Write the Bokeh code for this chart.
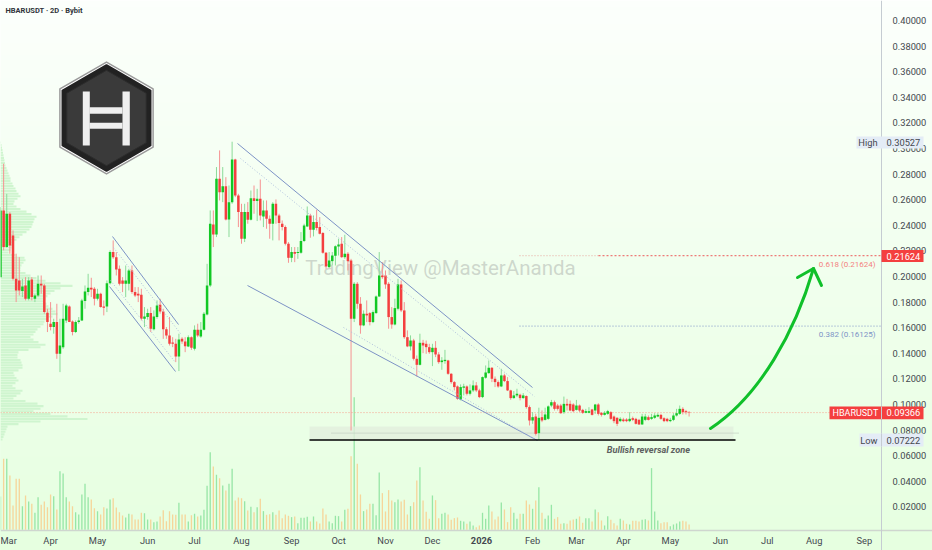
from bokeh.plotting import figure
from bokeh.models import Range1d, LinearAxis, FixedTicker, PrintfTickFormatter
from bokeh.core.properties import value
from bokeh.embed import file_html
from bokeh.resources import INLINE
import numpy as np

# OHLC, in units of 0.0001 USDT, one candle every two days
open_e4 = [1995,2516,2230,2490,2321,1982,1969,1887,1930,1826,
1977,1826,1852,1943,1930,1717,1631,1605,1644,1396,
1448,1657,1766,1649,1566,1644,1657,1808,1878,1912,
1904,1826,1865,1766,1766,1948,2191,2151,2060,1969,
1943,1943,2047,1878,1865,1857,1670,1683,1714,1587,
1683,1779,1727,1587,1540,1485,1474,1375,1513,1492,
1454,1526,1435,1584,1532,1584,1703,1930,2407,2329,
2763,2659,2706,2446,2581,2914,2633,2503,2295,2503,
2443,2612,2589,2607,2469,2516,2451,2412,2568,2477,
2412,2386,2256,2146,2191,2183,2185,2277,2391,2477,
2365,2425,2386,2339,2185,2073,2120,2162,2235,2256,
2151,2178,2125,1670,1943,1787,1618,1709,1714,1644,
1714,1844,2008,2008,1943,1683,1625,1748,1938,1735,
1526,1454,1500,1357,1310,1482,1474,1448,1409,1443,
1391,1331,1339,1344,1240,1175,1141,1040,1131,1141,
1084,1110,1149,1110,1058,1209,1245,1287,1201,1175,
1141,1227,1183,1110,1050,1071,1076,1050,1066,980,
875,906,776,901,880,888,992,1018,992,992,
940,1005,1005,1000,958,992,958,935,935,961,
953,1000,935,919,927,940,906,896,870,883,
883,870,893,888,880,844,880,901,888,896,
906,919,893,888,870,880,914,927,966,948,940]
close_e4 = [2516,2230,2490,2243,1982,1891,1891,1922,1826,1969,
1839,1852,1943,1930,1722,1644,1605,1644,1396,1461,
1670,1774,1644,1566,1644,1657,1813,1883,1912,1899,
1826,1865,1761,1756,1948,2191,2151,2055,1943,1943,
1969,2047,1878,1852,1852,1670,1688,1714,1592,1688,
1774,1727,1587,1540,1474,1474,1375,1508,1492,1456,
1526,1443,1584,1540,1584,1709,1930,2412,2329,2763,
2659,2706,2446,2581,2914,2633,2503,2295,2503,2443,
2612,2589,2607,2477,2516,2451,2412,2568,2477,2417,
2386,2256,2146,2191,2178,2191,2277,2399,2477,2365,
2425,2378,2334,2185,2079,2125,2164,2237,2250,2151,
2178,2120,1670,1943,1787,1618,1709,1696,1644,1722,
1844,2008,1995,1938,1683,1625,1753,1938,1735,1526,
1454,1500,1357,1310,1482,1461,1448,1409,1443,1391,
1331,1344,1349,1240,1175,1136,1045,1136,1141,1084,
1110,1149,1110,1058,1214,1250,1287,1201,1175,1141,
1227,1183,1110,1050,1071,1084,1050,1071,980,875,
901,771,896,875,922,985,1018,966,966,932,
1005,992,953,948,992,953,935,948,948,919,
1000,927,919,935,948,888,870,849,888,870,
870,888,880,849,844,906,906,880,901,914,
919,888,870,870,880,914,932,966,940,940,937]
high_e4 = [2542,2881,2646,2503,2360,2178,2151,1982,1995,1995,
1995,1865,2008,2008,1943,1748,1800,1670,1787,1670,
1787,1787,1774,1657,1657,1683,1826,1930,2021,1990,
1917,1904,1873,1813,1969,2204,2282,2191,2086,1995,
2086,2060,2086,1917,1917,1904,1761,1748,1761,1735,
1813,1826,1748,1605,1683,1526,1513,1553,1526,1526,
1540,1532,1618,1631,1644,1722,2099,2516,2516,2855,
2985,2855,2776,2711,3053,2920,2646,2568,2568,2581,
2672,2711,2685,2758,2594,2594,2477,2581,2602,2490,
2438,2399,2269,2230,2230,2230,2347,2412,2547,2490,
2477,2521,2464,2347,2191,2191,2191,2243,2295,2308,
2326,2191,2138,1956,1956,1839,1735,1813,1722,1735,
1852,2191,2112,2047,1956,1761,1826,1982,1969,1800,
1579,1540,1513,1383,1553,1505,1500,1474,1474,1495,
1409,1370,1427,1349,1245,1183,1149,1157,1162,1149,
1157,1188,1175,1123,1219,1305,1344,1292,1219,1188,
1279,1240,1214,1115,1105,1123,1084,1089,1071,993,
941,928,975,954,975,993,1036,1031,1005,1005,
1062,1044,1031,1010,1036,1000,966,966,979,966,
1005,1010,940,948,958,948,914,901,901,896,
893,940,906,896,888,927,927,914,927,932,
932,927,901,896,896,932,966,992,979,958,948]
low_e4 = [1995,2204,2225,2178,1969,1800,1852,1839,1813,1813,
1813,1800,1839,1865,1709,1566,1579,1553,1357,1253,
1435,1636,1644,1540,1558,1631,1652,1748,1852,1839,
1774,1813,1756,1696,1722,1938,2138,2008,1930,1878,
1839,1891,1865,1839,1800,1657,1605,1662,1566,1579,
1670,1709,1513,1513,1461,1448,1331,1261,1474,1409,
1448,1427,1422,1526,1521,1579,1696,1917,2230,2308,
2594,2581,2438,2308,2568,2620,2386,2256,2269,2412,
2438,2490,2433,2438,2386,2373,2295,2282,2412,2282,
2360,2243,2107,2112,2112,2138,2178,2269,2386,2303,
2313,2360,2329,2178,2060,2068,2086,2086,2164,2146,
2138,2047,797,1644,1748,1553,1612,1644,1618,1636,
1709,1839,1982,1904,1592,1592,1618,1735,1722,1513,
1448,1422,1344,1219,1305,1401,1396,1396,1300,1370,
1318,1271,1318,1232,1162,1110,1037,1032,1071,1071,
1071,1097,1097,1050,1050,1201,1240,1175,1136,1131,
1136,1175,1105,1037,1045,1058,1032,1045,967,836,
849,758,722,862,875,880,979,953,953,927,
927,953,948,940,953,940,927,932,932,914,
927,914,906,914,919,880,854,831,862,862,
862,862,870,844,841,841,870,875,880,888,
901,880,862,862,862,870,906,919,922,922,906]
volume = [100,213,213,163,73,153,153,71,103,85,
78,51,98,75,85,68,106,101,61,176,
169,98,85,71,53,46,106,138,98,91,
65,56,46,68,64,91,95,67,53,43,
37,48,46,31,31,51,50,31,31,23,
25,40,59,26,56,46,45,81,46,46,
25,44,48,40,43,60,132,233,190,165,
155,133,118,138,183,88,97,95,86,58,
69,53,68,93,56,45,47,53,45,58,
35,46,42,38,40,20,36,36,39,25,
40,25,19,64,46,25,20,42,41,25,
60,63,221,398,198,106,56,61,78,78,
44,172,110,55,119,88,83,91,85,90,
46,71,83,148,188,88,54,33,103,89,
35,48,51,46,30,35,37,27,25,18,
25,13,8,13,51,33,73,55,31,40,
82,61,23,68,51,33,48,48,88,76,
63,88,128,51,33,43,75,33,38,18,
20,18,28,31,33,40,21,35,35,25,
61,53,28,13,41,30,20,13,33,28,
18,16,27,27,25,30,32,28,185,55,
28,20,23,23,11,16,19,25,27,25,16]
# Volume profile: volume per 0.002 price row, from the top row downwards
profile_top_price = 0.3047
profile_volume = [0.5,1,1.5,2,2.5,3,3.5,4,4.5,5,6,7,8,9,10,10,12,13,15,16,18,20,17,14,13,16,20,26,31,36,
34,33,32,31,29,26,22,19,16,13,12,11,10,8,15,24,25,23,21,20,20,25,30,36,45,60,72,60,54,50,
47,45,43,46,48,52,55,57,52,47,44,43,40,37,35,33,30,33,38,45,40,28,18,17,17,20,21,22,22,18,
13,14,16,18,15,12,15,22,20,16,13,25,37,43,40,33,50,67,87,40,18,7,6,5,4,3,2]
y_ticks = [0.02,0.04,0.06,0.08,0.10,0.12,0.14,0.16,0.18,0.20,0.22,0.24,0.26,0.28,0.30,0.32,0.34,0.36,0.38,0.40]
month_bars = [1,16,31,47,62,77,93,108,123,138,154,170,184,199,214,230,245,260,276]
month_labels = ["Mar","Apr","May","Jun","Jul","Aug","Sep","Oct","Nov","Dec"," ","Feb","Mar","Apr","May","Jun","Jul","Aug","Sep"]
price_last, price_high, price_low = 0.09366, 0.30527, 0.07222
fib_618, fib_382 = 0.21624, 0.16125

FONT = "Roboto"
GREEN, RED = "#12c824", "#f43f3f"
GREEN_W, RED_W = "#8bdb99", "#f69292"
GREEN_V, ORANGE_V = "#97e6a6", "#f6d59a"
BLUE = "#7d93c6"
LABEL = "9.3px"

DAY = 86400000.0
T0 = float(np.datetime64("2025-02-26", "ms").astype("int64"))
PX_PER_BAR = 3.13
def bar_ms(i):
    return T0 + np.asarray(i, dtype=float) * 2 * DAY
def px_ms(px):
    return bar_ms(px / PX_PER_BAR)

p = figure(width=932, height=550, output_backend="svg", toolbar_location=None,
           x_axis_type=None, y_axis_type=None, min_border=0,
           x_range=Range1d(float(px_ms(0)), float(px_ms(932))),
           y_range=Range1d(0.40 - 530 / 1280, 0.40 + 20 / 1280))
p.outline_line_color = None
p.grid.visible = False
p.border_fill_color = "#f4fff1"
p.extra_x_ranges["sx"] = Range1d(0, 932)
p.extra_y_ranges["sy"] = Range1d(550, 0)
p.extra_y_ranges["vol"] = Range1d(-(550 - 529.3) * 3, 529.3 * 3)
PX = dict(x_range_name="sx", y_range_name="sy")

# background wash
ys = np.arange(0, 550, 6.0)
t = ys / 550
cols = ["#%02x%02x%02x" % (int(252 - 22 * a), 255, int(252 - 28 * a)) for a in t]
p.quad(left=0, right=932, top=ys, bottom=550, color=cols, line_color=None, **PX)

# watermark
p.text([440], [267], text=["TradingView @MasterAnanda"], text_font=value(FONT), text_font_size="20.5px",
       text_align="center", text_baseline="middle", text_color="#aab0aa", text_alpha=0.5, **PX)

# volume profile
prof_y = profile_top_price - 0.002 * np.arange(len(profile_volume))
p.hbar(y=prof_y, left=0, right=np.array(profile_volume, dtype=float), height=0.00165,
       x_range_name="sx", color="#cff5cf", line_color=None)

# volume
o, c, h, l = [np.array(a, dtype=float) / 10000 for a in (open_e4, close_e4, high_e4, low_e4)]
idx = np.arange(len(c))
x = bar_ms(idx)
up = c >= o
p.vbar(x=x, top=volume, bottom=0, width=2 * DAY * 0.42, y_range_name="vol",
       color=[GREEN_V if u else ORANGE_V for u in up], line_color=None)

# zone and levels
p.quad(left=309, right=733, top=426, bottom=439, color="#e2efdd", line_color=None, alpha=0.8, **PX)
p.line([331, 738], [432.7, 432.7], line_color="#c0c9c0", line_width=1.2, line_dash="1 1", **PX)
p.line([0, 881], [price_last, price_last], x_range_name="sx", line_color="#f5a08a", line_width=1, line_dash="1 2")
p.line([519, 598], [fib_618, fib_618], x_range_name="sx", line_color="#e8a8a0", line_width=1, line_dash="1 2")
p.line([598, 881], [fib_618, fib_618], x_range_name="sx", line_color="#ee5a5a", line_width=1, line_dash="2 2")
p.line([519, 881], [fib_382, fib_382], x_range_name="sx", line_color=BLUE, line_width=1, line_dash="1 2")

# candles
p.segment(x, l, x, h, color=[GREEN_W if u else RED_W for u in up], line_width=1)
p.vbar(x=x, top=np.maximum(o, c), bottom=np.minimum(o, c), width=2 * DAY * 0.8,
       color=[GREEN if u else RED for u in up], line_color=None)

# trend lines and channels
for xs, yy in ([[237, 532], [143, 387]], [[247, 537], [285, 440]], [[112, 178], [236, 324]], [[109, 175], [286, 371]]):
    p.line(xs, yy, line_color=BLUE, line_width=1, **PX)
for xs, yy in ([[240, 534], [158, 396]], [[343, 533], [327, 438]], [[113, 180], [247, 333]], [[110, 175], [280, 362]]):
    p.line(xs, yy, line_color="#aebfdc", line_width=1, line_dash="1 2", **PX)
p.line([309, 735], [price_low, price_low], x_range_name="sx", line_color="#000000", line_width=1.6)

# arrow
p.bezier(x0=[710], y0=[428], x1=[813], y1=[268], cx0=[760], cy0=[395], cx1=[795], cy1=[330],
         line_color="#10c02a", line_width=3, line_cap="round", **PX)
p.line([797, 813, 821], [277, 268, 285], line_color="#10c02a", line_width=3, line_cap="round", line_join="round", **PX)

# logo
hx = np.array([106, 153.3, 153.3, 106, 58.7, 58.7]) - 106
hy = np.array([60.7, 88, 147, 174.3, 147, 88]) - 117.5
for k, fill, ln, lw in ((0.985, "#ffffff", "#9a9a9a", 1.5), (0.93, "#222222", "#222222", 2), (0.84, "#3a3a3a", "#2c2c2c", 1)):
    p.patch(106 + k * hx, 117.5 + k * hy, fill_color=fill, line_color=ln, line_width=lw, line_join="round", **PX)
p.quad(left=[82.3, 122], right=[89.3, 129.3], top=[91, 91], bottom=[145, 145], color="#efefef", line_color=None, **PX)
p.quad(left=[89, 89], right=[122, 122], top=[106.7, 122.3], bottom=[113.3, 128.3], color="#efefef", line_color=None, **PX)

# axes placed inside the frame, as on the original
yaxis = LinearAxis(ticker=FixedTicker(ticks=y_ticks), formatter=PrintfTickFormatter(format="%.5f"),
                   fixed_location=float(px_ms(881)), axis_line_color="#c5ccd2", axis_line_width=1,
                   major_tick_line_color=None, minor_tick_line_color=None, major_label_standoff=5,
                   major_label_text_font=FONT, major_label_text_font_size=LABEL, major_label_text_color="#44484f")
p.add_layout(yaxis, "right")
xt = [float(bar_ms(b)) for b in month_bars]
xaxis = LinearAxis(ticker=FixedTicker(ticks=xt), major_label_overrides=dict(zip(xt, month_labels)),
                   fixed_location=0.40 - 509.5 / 1280, axis_line_color="#cfd6cf", axis_line_width=1.5,
                   major_tick_line_color=None, minor_tick_line_color=None, major_label_standoff=-1,
                   major_label_text_font=FONT, major_label_text_font_size=LABEL, major_label_text_color="#44484f")
p.add_layout(xaxis, "below")

def txt(px, py, s, size=LABEL, color="#44484f", align="left", style="normal", level="annotation", **kw):
    p.text([px], [py], text=[s], text_font=value(FONT), text_font_size=size, text_color=color, text_align=align,
           text_baseline="middle", text_font_style=style, level=level, **(kw or PX))

txt(5, 10, "HBARUSDT · 2D · Bybit", size="7.5px", style="bold", color="#30343a")
txt(481, 540, "2026", style="bold", align="center")
txt(875, 263.6, "0.618 (0.21624)", size="8px", color="#f47f7f", align="right")
txt(875, 334, "0.382 (0.16125)", size="8px", color=BLUE, align="right")
txt(648, 449, "Bullish reversal zone", size="9.2px", color="#5d6160", align="center", style="bold italic")

# price tags over the axis
TAG_BLUE = "#e4ecf6"
for left, right, top, bottom, col in ((856, 923, 136, 148, TAG_BLUE), (859, 923, 433, 446, TAG_BLUE),
                                      (881, 923, 249.5, 261.5, RED), (829, 923, 406, 418.7, RED)):
    p.quad(left=left, right=right, top=top, bottom=bottom, color=col, line_color=None, level="annotation", **PX)
p.segment([881, 881], [406, 433], [881, 881], [418.7, 446], color="#c5ccd2", level="annotation", **PX)
txt(877, 141.7, "High", align="right")
txt(886, 141.7, "%.5f" % price_high)
txt(877, 439.6, "Low", align="right")
txt(886, 439.6, "%.5f" % price_low)
txt(886, 255.6, "%.5f" % fib_618, color="#ffffff")
txt(832, 412.4, "HBARUSDT", size="9px", color="#ffffff")
txt(886, 412.4, "%.5f" % price_last, color="#ffffff")

open("out.html", "w").write(file_html(p, INLINE))
